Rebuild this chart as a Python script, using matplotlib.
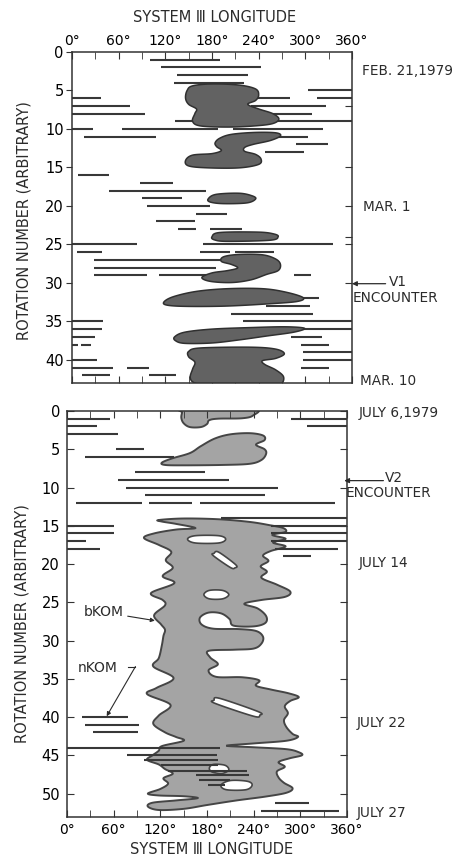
import numpy as np
import matplotlib
matplotlib.use("Agg")
import matplotlib.pyplot as plt
from matplotlib.transforms import blended_transform_factory

plt.rcParams['font.family'] = ['DejaVu Sans']

# ---------------- DATA ----------------
lon_ticks = [0, 60, 120, 180, 240, 300, 360]
lon_tick_labels = ["0°", "60°", "120°", "180°", "240°", "300°", "360°"]
rot_ticks_top = [0, 5, 10, 15, 20, 25, 30, 35, 40]
rot_ticks_bottom = [0, 5, 10, 15, 20, 25, 30, 35, 40, 45, 50]
right_ticks_top = [7, 15, 20, 24, 25, 30]

# Feb-Mar 1979 (Voyager 1) : rotation, start longitude, end longitude
top_rot = [1, 2, 3, 4, 5, 6, 6, 6, 7, 7, 8, 8, 9, 10, 10, 10, 11, 11, 12, 13,
           16, 17, 18, 19, 20, 21, 22, 23, 23, 25, 25, 26, 26, 26, 27, 28, 29, 29, 29,
           32, 33, 34, 35, 35, 36, 36, 37, 37, 38, 38, 38, 39, 40, 40, 41, 41, 41, 42, 42]
top_start = [100, 114, 135, 131, 303, 0, 230, 315, 0, 230, 0, 230, 132, 0, 64, 207, 15, 262, 288, 248,
             8, 87, 48, 90, 97, 159, 108, 136, 177, 0, 169, 6, 165, 209, 28, 28, 28, 112, 285,
             280, 250, 205, 0, 220, 0, 290, 0, 281, 0, 12, 295, 297, 0, 297, 0, 71, 295, 13, 99]
top_end = [190, 243, 226, 221, 360, 37, 280, 360, 75, 327, 94, 309, 360, 27, 188, 323, 108, 304, 329, 298,
           48, 130, 172, 142, 178, 199, 158, 159, 218, 83, 336, 39, 203, 260, 190, 185, 97, 175, 307,
           317, 306, 310, 40, 360, 39, 360, 30, 321, 8, 24, 331, 360, 32, 360, 53, 99, 331, 49, 134]

# July 1979 (Voyager 2)
bot_rot = [1, 1, 2, 2, 3, 5, 6, 8, 9, 10, 11, 12, 12, 12, 14, 15, 15, 16, 16, 17, 17, 18, 18, 19,
           40, 41, 42, 44, 45, 45.6, 46.3, 47.0, 47.6, 48.2, 48.9, 51.3, 52.3]
bot_start = [0, 288, 0, 308, 0, 63, 23, 87, 65, 76, 100, 12, 106, 171, 198, 0, 262, 0, 262, 0, 262, 0, 267, 278,
             19, 23, 34, 0, 77, 99, 121, 130, 166, 170, 181, 268, 249]
bot_end = [55, 360, 39, 360, 66, 99, 137, 177, 208, 271, 255, 96, 161, 344, 360, 61, 360, 61, 360, 25, 360, 42, 349, 314,
           79, 92, 91, 197, 193, 194, 194, 232, 234, 210, 203, 311, 350]

# emission regions (outlines in longitude, rotation)
blobA = [(146, 6.0), (148, 5.0), (155, 4.4), (180, 4.15), (215, 4.3), (236, 4.8), (240, 5.6), (236, 6.3),
         (226, 6.8), (240, 7.4), (258, 8.0), (266, 8.7), (258, 9.3), (235, 9.6), (200, 9.75), (165, 9.6),
         (155, 9.0), (158, 8.0), (160, 7.4), (150, 6.8)]
blobB = [(184, 11.8), (190, 11.2), (205, 10.7), (235, 10.45), (262, 10.5), (268, 10.9), (255, 11.5),
         (233, 12.0), (222, 12.4), (222, 12.9), (236, 13.3), (243, 13.9), (240, 14.6), (215, 15.05),
         (175, 15.05), (150, 14.8), (146, 14.1), (155, 13.4), (180, 13.2), (192, 12.8), (186, 12.3)]
blobC = [(175, 19.1), (185, 18.5), (215, 18.35), (232, 18.7), (236, 19.1), (225, 19.6), (195, 19.7), (178, 19.5)]
blobD = [(180, 24.0), (190, 23.45), (240, 23.4), (260, 23.65), (265, 24.0), (255, 24.45), (200, 24.6), (183, 24.4)]
blobE = [(192, 27.2), (195, 26.6), (215, 26.3), (245, 26.35), (262, 26.9), (268, 27.6), (265, 28.4),
         (250, 28.9), (230, 29.6), (205, 29.95), (178, 29.8), (167, 29.3), (180, 28.7), (200, 28.4),
         (213, 28.05), (205, 27.6)]
blobF = [(118, 32.5), (130, 31.8), (160, 31.1), (200, 30.75), (245, 30.75), (275, 31.2), (297, 31.9),
         (290, 32.4), (255, 32.7), (200, 33.0), (150, 33.05), (123, 32.9)]
blobG = [(132, 37.0), (145, 36.4), (180, 36.0), (230, 35.8), (275, 35.7), (299, 35.9), (285, 36.4),
         (250, 36.9), (215, 37.4), (180, 37.8), (145, 37.85), (133, 37.5)]
blobH = [(150, 38.9), (165, 38.45), (230, 38.35), (262, 38.6), (273, 39.2), (262, 39.8), (245, 40.1),
         (248, 40.6), (262, 41.3), (272, 42.2), (268, 43.2), (250, 43.4), (180, 43.4), (158, 43.0),
         (152, 42.3), (155, 41.2), (158, 40.3), (150, 39.6)]
top_blobs = [blobA, blobB, blobC, blobD, blobE, blobF, blobG, blobH]

blobP = [(147, 0.9), (148, 0.2), (150, -0.3), (240, -0.3), (239, 0.6), (225, 0.95), (195, 1.0), (183, 1.2),
         (180, 1.7), (172, 2.1), (158, 2.1), (150, 1.6)]
blobQ = [(122, 6.75), (135, 6.2), (158, 5.5), (172, 4.6), (190, 3.6), (210, 3.05), (235, 2.9), (252, 3.2),
         (254, 3.8), (243, 4.4), (254, 5.0), (256, 5.6), (250, 6.4), (235, 6.9), (200, 7.05), (150, 7.1), (126, 7.05)]
blobR = [(118, 14.25), (150, 14.05), (195, 14.15), (235, 14.5), (262, 14.95), (278, 15.3),
         (281, 15.8), (264, 16.2), (281, 16.7), (265, 17.2), (281, 17.7), (262, 18.3),
         (252, 18.9), (259, 19.6), (249, 20.3), (257, 21.0), (250, 21.8),
         (270, 22.7), (287, 23.6), (280, 24.3), (250, 24.7), (228, 25.2),
         (245, 25.8), (256, 26.8), (255, 27.7), (240, 28.15), (214, 28.05),
         (209, 27.2), (198, 26.45), (182, 26.35), (171, 27.0), (173, 27.9), (188, 28.45), (220, 28.5), (243, 28.75),
         (252, 29.5), (250, 30.4), (240, 31.05), (215, 31.2), (182, 31.35),
         (184, 32.2), (194, 33.1), (182, 33.9), (192, 34.75), (225, 34.8), (247, 35.2), (243, 35.9),
         (262, 36.4), (285, 36.9), (298, 37.4), (287, 37.9),
         (280, 38.6), (284, 39.5), (279, 40.4), (282, 41.3), (290, 42.2), (297, 42.6),
         (282, 43.1), (240, 43.45), (205, 43.75), (240, 43.95), (282, 44.2), (298, 44.6), (302, 45.0),
         (286, 45.4), (272, 45.9), (280, 46.5), (270, 47.1), (272, 47.9), (279, 48.6), (290, 49.3), (282, 49.9),
         (255, 50.4), (218, 50.9), (180, 51.5), (150, 52.0), (118, 52.15), (104, 51.7),
         (110, 51.2), (140, 50.9), (168, 50.6), (150, 50.35), (118, 50.25), (104, 50.0),
         (120, 49.4), (130, 48.7), (124, 48.0), (136, 47.4), (126, 46.8), (118, 46.2), (103, 45.6),
         (110, 45.0), (118, 44.4), (122, 43.8), (150, 43.1), (140, 42.6),
         (126, 42.0), (111, 40.9), (118, 39.8), (133, 38.4), (103, 37.0),
         (115, 36.2), (137, 34.9), (111, 33.4), (118, 32.3), (122, 30.6), (124, 29.4),
         (126, 28.6), (121, 27.9), (112, 26.7), (126, 25.4), (123, 24.7), (108, 23.8),
         (138, 22.5), (123, 21.6), (136, 20.5), (127, 19.5), (134, 18.4), (118, 17.5), (99, 16.6),
         (112, 16.0), (140, 15.5), (165, 15.3), (140, 14.75), (122, 14.45)]
bottom_blobs = [blobP, blobQ, blobR]

hole1 = [(155, 16.75), (165, 16.3), (195, 16.3), (204, 16.75), (195, 17.25), (165, 17.25)]
hole2 = [(189, 18.6), (195, 18.45), (217, 20.1), (216, 20.5), (210, 20.45), (188, 18.9)]
hole3 = [(176, 24.0), (183, 23.45), (200, 23.45), (208, 24.0), (200, 24.55), (183, 24.55)]
hole4 = [(189, 37.8), (196, 37.55), (246, 39.3), (248, 39.75), (240, 39.9), (190, 38.2)]
hole5 = [(183, 46.7), (188, 46.2), (203, 46.3), (208, 46.9), (200, 47.35), (187, 47.2)]
hole6 = [(198, 48.9), (210, 48.3), (232, 48.4), (238, 48.9), (230, 49.5), (205, 49.5)]
holes = [hole1, hole2, hole3, hole4, hole5, hole6]

LINE_C = '#383838'
TOP_FILL, TOP_EDGE = '#626262', '#303030'
BOT_FILL, BOT_EDGE = '#a4a4a4', '#454545'


def smooth_closed(pts, n=14):
    """Closed Catmull-Rom curve through the outline points."""
    p = np.asarray(pts, float)
    p0 = np.roll(p, 1, 0)
    p1 = p
    p2 = np.roll(p, -1, 0)
    p3 = np.roll(p, -2, 0)
    t = np.linspace(0, 1, n, endpoint=False)[:, None, None]
    out = 0.5 * (2 * p1 + (-p0 + p2) * t + (2 * p0 - 5 * p1 + 4 * p2 - p3) * t ** 2
                 + (-p0 + 3 * p1 - 3 * p2 + p3) * t ** 3)
    return out.transpose(1, 0, 2).reshape(-1, 2)


fig = plt.figure(figsize=(4.55, 8.59), dpi=100)
ax1 = fig.add_axes([72 / 455, 1 - 383 / 859, 280 / 455, 331 / 859])
ax2 = fig.add_axes([67 / 455, 1 - 816.5 / 859, 280 / 455, 405.5 / 859])

for ax, ymax in ((ax1, 43), (ax2, 53)):
    ax.set_xlim(0, 360)
    ax.set_ylim(ymax, 0)
    for s in ax.spines.values():
        s.set_linewidth(1.1)
        s.set_color('#333333')
    ax.set_xticks(lon_ticks)
    ax.set_xticks(np.arange(30, 360, 60), minor=True)

# ---- top panel ----
ax1.hlines(top_rot, top_start, top_end, colors=LINE_C, lw=1.5, zorder=1)
for b in top_blobs:
    s = smooth_closed(b)
    ax1.fill(s[:, 0], s[:, 1], facecolor=TOP_FILL, edgecolor=TOP_EDGE, lw=1.1, zorder=2)

ax1.xaxis.tick_top()
ax1.set_xticklabels(lon_tick_labels)
ax1.tick_params(axis='x', which='both', top=True, bottom=True, direction='in', length=5,
                labeltop=True, labelbottom=False, labelsize=10, pad=3, color='#333333')
ax1.set_yticks(rot_ticks_top)
ax1.set_yticklabels([str(v) for v in rot_ticks_top])
ax1.tick_params(axis='y', direction='out', length=4, labelsize=10.5, pad=2, color='#333333')
ax1r = ax1.twinx()
ax1r.set_ylim(43, 0)
ax1r.set_yticks(right_ticks_top)
ax1r.tick_params(axis='y', direction='in', length=5, labelright=False, color='#333333')
for s in ax1r.spines.values():
    s.set_visible(False)

# ---- bottom panel ----
for b in bottom_blobs:
    s = smooth_closed(b)
    ax2.fill(s[:, 0], s[:, 1], facecolor=BOT_FILL, edgecolor=BOT_EDGE, lw=1.4, zorder=1)
for h in holes:
    s = smooth_closed(h)
    ax2.fill(s[:, 0], s[:, 1], facecolor='white', edgecolor=BOT_EDGE, lw=1.2, zorder=2)
ax2.hlines(bot_rot, bot_start, bot_end, colors=LINE_C, lw=1.5, zorder=3)

ax2.set_xticklabels(lon_tick_labels)
ax2.tick_params(axis='x', which='both', top=True, bottom=True, direction='in', length=5,
                labelsize=10, pad=5, color='#333333')
ax2.set_yticks(rot_ticks_bottom)
ax2.set_yticklabels([str(v) for v in rot_ticks_bottom])
ax2.tick_params(axis='y', left=True, right=True, direction='in', length=5, labelsize=10.5,
                pad=5, color='#333333')

# ---- titles / labels ----
txtc = '#2b2b2b'
fig.text(215 / 455, 1 - 18 / 859, "SYSTEM Ⅲ LONGITUDE", ha='center', va='center', fontsize=10.5, color=txtc)
fig.text(212 / 455, 1 - 850 / 859, "SYSTEM Ⅲ LONGITUDE", ha='center', va='center', fontsize=10.5, color=txtc)
fig.text(24 / 455, 1 - 221 / 859, "ROTATION NUMBER (ARBITRARY)", rotation=90, ha='center', va='center',
         fontsize=10.5, color=txtc)
fig.text(22 / 455, 1 - 624 / 859, "ROTATION NUMBER (ARBITRARY)", rotation=90, ha='center', va='center',
         fontsize=10.5, color=txtc)

tr1 = blended_transform_factory(ax1.transAxes, ax1.transData)
tr2 = blended_transform_factory(ax2.transAxes, ax2.transData)
kw = dict(fontsize=9.8, color=txtc, va='center', ha='left', clip_on=False)
ax1.text(1.035, 2.5, "FEB. 21,1979", transform=tr1, **kw)
ax1.text(1.04, 20.2, "MAR. 1", transform=tr1, **kw)
ax1.text(1.13, 29.9, "V1", transform=tr1, **kw)
ax1.text(1.004, 31.9, "ENCOUNTER", transform=tr1, **kw)
ax1.text(1.03, 42.7, "MAR. 10", transform=tr1, **kw)
ax1.annotate('', xy=(1.0, 30.1), xycoords=tr1, xytext=(1.12, 30.1), textcoords=tr1,
             arrowprops=dict(arrowstyle='-|>', lw=0.9, color=txtc, mutation_scale=7, shrinkA=0, shrinkB=0))

ax2.text(1.04, 0.3, "JULY 6,1979", transform=tr2, **kw)
ax2.text(1.135, 8.8, "V2", transform=tr2, **kw)
ax2.text(0.995, 10.7, "ENCOUNTER", transform=tr2, **kw)
ax2.text(1.04, 19.9, "JULY 14", transform=tr2, **kw)
ax2.text(1.035, 40.8, "JULY 22", transform=tr2, **kw)
ax2.text(1.035, 52.5, "JULY 27", transform=tr2, **kw)
ax2.annotate('', xy=(0.99, 9.1), xycoords=tr2, xytext=(1.13, 9.1), textcoords=tr2,
             arrowprops=dict(arrowstyle='-|>', lw=0.9, color=txtc, mutation_scale=7, shrinkA=0, shrinkB=0))

ax2.annotate("bKOM", xy=(113, 27.4), xytext=(47, 26.3), fontsize=10, color=txtc, ha='center', va='center',
             arrowprops=dict(arrowstyle='-|>', lw=0.8, color=txtc, mutation_scale=6, shrinkA=1, shrinkB=0))
ax2.text(40, 33.6, "nKOM", fontsize=10, color=txtc, ha='center', va='center')
ax2.plot([78, 88], [33.4, 33.4], color=txtc, lw=0.8)
ax2.annotate('', xy=(51, 39.9), xytext=(88, 33.4),
             arrowprops=dict(arrowstyle='-|>', lw=0.8, color=txtc, mutation_scale=6, shrinkA=0, shrinkB=0))

fig.savefig("out.png", dpi=100, facecolor='white')
